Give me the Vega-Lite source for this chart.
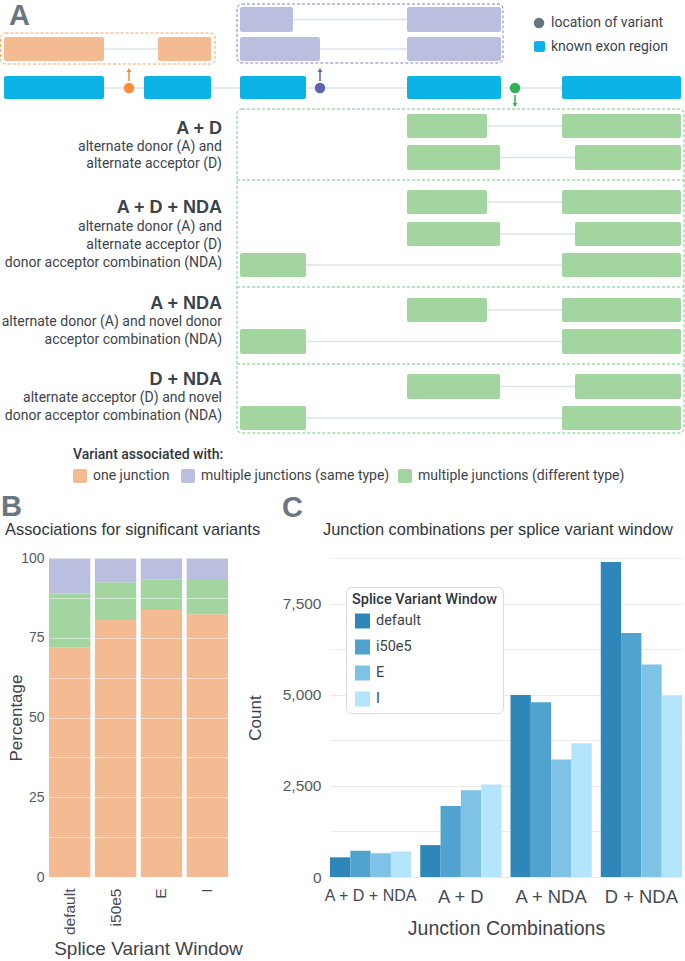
{
  "$schema": "https://vega.github.io/schema/vega-lite/v6.json",
  "padding": 0,
  "background": "white",
  "spacing": 6,
  "config": {"view": {"stroke": null}, "font": "Liberation Sans"},
  "datasets": {
    "rects": [
      {"x": 4, "x2": 104, "y": 37, "y2": 61, "k": "one"},
      {"x": 158, "x2": 211, "y": 37, "y2": 61, "k": "one"},
      {"x": 240, "x2": 293, "y": 7, "y2": 32, "k": "same"},
      {"x": 407, "x2": 501, "y": 7, "y2": 32, "k": "same"},
      {"x": 240, "x2": 320, "y": 37, "y2": 61, "k": "same"},
      {"x": 407, "x2": 501, "y": 37, "y2": 61, "k": "same"},
      {"x": 4, "x2": 104, "y": 76, "y2": 99, "k": "exon"},
      {"x": 144, "x2": 211, "y": 76, "y2": 99, "k": "exon"},
      {"x": 240, "x2": 306, "y": 76, "y2": 99, "k": "exon"},
      {"x": 407, "x2": 501, "y": 76, "y2": 99, "k": "exon"},
      {"x": 562, "x2": 681, "y": 76, "y2": 99, "k": "exon"},
      {"x": 407, "x2": 487, "y": 114, "y2": 138, "k": "diff"},
      {"x": 562, "x2": 681, "y": 114, "y2": 138, "k": "diff"},
      {"x": 407, "x2": 500, "y": 145, "y2": 170, "k": "diff"},
      {"x": 575, "x2": 681, "y": 145, "y2": 170, "k": "diff"},
      {"x": 407, "x2": 487, "y": 190, "y2": 214, "k": "diff"},
      {"x": 562, "x2": 681, "y": 190, "y2": 214, "k": "diff"},
      {"x": 407, "x2": 500, "y": 222, "y2": 246, "k": "diff"},
      {"x": 575, "x2": 681, "y": 222, "y2": 246, "k": "diff"},
      {"x": 240, "x2": 306, "y": 253, "y2": 277, "k": "diff"},
      {"x": 562, "x2": 681, "y": 253, "y2": 277, "k": "diff"},
      {"x": 407, "x2": 487, "y": 298, "y2": 322, "k": "diff"},
      {"x": 562, "x2": 681, "y": 298, "y2": 322, "k": "diff"},
      {"x": 240, "x2": 306, "y": 329, "y2": 354, "k": "diff"},
      {"x": 562, "x2": 681, "y": 329, "y2": 354, "k": "diff"},
      {"x": 407, "x2": 500, "y": 374, "y2": 399, "k": "diff"},
      {"x": 575, "x2": 681, "y": 374, "y2": 399, "k": "diff"},
      {"x": 240, "x2": 306, "y": 406, "y2": 430, "k": "diff"},
      {"x": 562, "x2": 681, "y": 406, "y2": 430, "k": "diff"},
      {"x": 534, "x2": 545, "y": 41, "y2": 52, "k": "exon"},
      {"x": 73, "x2": 87, "y": 469, "y2": 483, "k": "one"},
      {"x": 181, "x2": 195, "y": 469, "y2": 483, "k": "same"},
      {"x": 398, "x2": 412, "y": 469, "y2": 483, "k": "diff"}
    ],
    "links": [
      {"x": 4, "x2": 211, "y": 49},
      {"x": 240, "x2": 501, "y": 19.5},
      {"x": 240, "x2": 501, "y": 49},
      {"x": 4, "x2": 681, "y": 88},
      {"x": 407, "x2": 681, "y": 126},
      {"x": 407, "x2": 681, "y": 157.5},
      {"x": 407, "x2": 681, "y": 202},
      {"x": 407, "x2": 681, "y": 234},
      {"x": 240, "x2": 681, "y": 265},
      {"x": 407, "x2": 681, "y": 310},
      {"x": 240, "x2": 681, "y": 341.5},
      {"x": 407, "x2": 681, "y": 386.5},
      {"x": 240, "x2": 681, "y": 418}
    ],
    "boxes": [
      {"x": 0.5, "x2": 215, "y": 33, "y2": 64, "k": "one"},
      {"x": 237, "x2": 503, "y": 4, "y2": 63, "k": "same"},
      {"x": 237, "x2": 684, "y": 109, "y2": 433, "k": "diff"}
    ],
    "dividers": [
      {"x": 237, "x2": 684, "y": 180},
      {"x": 237, "x2": 684, "y": 287},
      {"x": 237, "x2": 684, "y": 364}
    ],
    "stems": [
      {"x": 129, "y": 81, "y2": 71, "k": "one"},
      {"x": 320, "y": 81, "y2": 71, "k": "same"},
      {"x": 515, "y": 95, "y2": 104, "k": "diff"}
    ],
    "heads": [
      {"x": 129, "y": 70, "k": "one", "dir": "up"},
      {"x": 320, "y": 70, "k": "same", "dir": "up"},
      {"x": 515, "y": 105, "k": "diff", "dir": "down"}
    ],
    "dots": [
      {"x": 129, "y": 88, "k": "one"},
      {"x": 320, "y": 88, "k": "same"},
      {"x": 515, "y": 88, "k": "diff"},
      {"x": 539, "y": 23, "k": "legend"}
    ],
    "letters": [
      {"x": 9, "y": 16, "t": "A"},
      {"x": 1, "y": 507, "t": "B"},
      {"x": 282, "y": 508, "t": "C"}
    ],
    "headings": [
      {"x": 222, "y": 129, "t": "A + D"},
      {"x": 222, "y": 208, "t": "A + D + NDA"},
      {"x": 222, "y": 304, "t": "A + NDA"},
      {"x": 222, "y": 380, "t": "D + NDA"}
    ],
    "desc": [
      {"x": 222, "y": 147, "t": "alternate donor (A) and"},
      {"x": 222, "y": 163.5, "t": "alternate acceptor (D)"},
      {"x": 222, "y": 227, "t": "alternate donor (A) and"},
      {"x": 222, "y": 245, "t": "alternate acceptor (D)"},
      {"x": 222, "y": 263, "t": "donor acceptor combination (NDA)"},
      {"x": 222, "y": 322, "t": "alternate donor (A) and novel donor"},
      {"x": 222, "y": 339.5, "t": "acceptor combination (NDA)"},
      {"x": 222, "y": 398, "t": "alternate acceptor (D) and novel"},
      {"x": 222, "y": 416, "t": "donor acceptor combination (NDA)"}
    ],
    "legendText": [
      {"x": 551, "y": 23, "t": "location of variant"},
      {"x": 551, "y": 47, "t": "known exon region"},
      {"x": 93, "y": 476, "t": "one junction"},
      {"x": 201, "y": 476, "t": "multiple junctions (same type)"},
      {"x": 418, "y": 476, "t": "multiple junctions (different type)"}
    ],
    "legendHead": [
      {"x": 73, "y": 455, "t": "Variant associated with:"}
    ],
    "titles": [
      {"x": 5, "y": 530, "t": "Associations for significant variants"},
      {"x": 323, "y": 530, "t": "Junction combinations per splice variant window"}
    ],
    "assoc": [
      {"win": "default", "assoc": "one junction", "ord": 1, "pct": 72.0},
      {"win": "default", "assoc": "multiple junctions (different type)", "ord": 2, "pct": 16.9},
      {"win": "default", "assoc": "multiple junctions (same type)", "ord": 3, "pct": 11.1},
      {"win": "i50e5", "assoc": "one junction", "ord": 1, "pct": 80.6},
      {"win": "i50e5", "assoc": "multiple junctions (different type)", "ord": 2, "pct": 11.8},
      {"win": "i50e5", "assoc": "multiple junctions (same type)", "ord": 3, "pct": 7.6},
      {"win": "E", "assoc": "one junction", "ord": 1, "pct": 83.7},
      {"win": "E", "assoc": "multiple junctions (different type)", "ord": 2, "pct": 9.5},
      {"win": "E", "assoc": "multiple junctions (same type)", "ord": 3, "pct": 6.8},
      {"win": "I", "assoc": "one junction", "ord": 1, "pct": 82.4},
      {"win": "I", "assoc": "multiple junctions (different type)", "ord": 2, "pct": 10.7},
      {"win": "I", "assoc": "multiple junctions (same type)", "ord": 3, "pct": 6.9}
    ],
    "combos": [
      {"combo": "A + D + NDA", "win": "default", "count": 540},
      {"combo": "A + D + NDA", "win": "i50e5", "count": 720},
      {"combo": "A + D + NDA", "win": "E", "count": 650},
      {"combo": "A + D + NDA", "win": "I", "count": 700},
      {"combo": "A + D", "win": "default", "count": 875},
      {"combo": "A + D", "win": "i50e5", "count": 1950},
      {"combo": "A + D", "win": "E", "count": 2380},
      {"combo": "A + D", "win": "I", "count": 2540},
      {"combo": "A + NDA", "win": "default", "count": 4990},
      {"combo": "A + NDA", "win": "i50e5", "count": 4790},
      {"combo": "A + NDA", "win": "E", "count": 3225},
      {"combo": "A + NDA", "win": "I", "count": 3670},
      {"combo": "D + NDA", "win": "default", "count": 8640},
      {"combo": "D + NDA", "win": "i50e5", "count": 6695},
      {"combo": "D + NDA", "win": "E", "count": 5830},
      {"combo": "D + NDA", "win": "I", "count": 4980}
    ]
  },
  "vconcat": [
    {
      "width": 636,
      "height": 545,
      "resolve": {"scale": {"fill": "independent", "stroke": "independent"}},
      "encoding": {
        "x": {"field": "x", "type": "quantitative", "scale": {"domain": [49, 685], "nice": false, "zero": false}, "axis": null},
        "y": {"field": "y", "type": "quantitative", "scale": {"domain": [545, 0], "nice": false, "zero": false}, "axis": null}
      },
      "layer": [
        {
          "data": {"name": "boxes"},
          "mark": {"type": "rect", "filled": false, "strokeDash": [3, 2], "strokeWidth": 1, "cornerRadius": 5},
          "encoding": {
            "x2": {"field": "x2"}, "y2": {"field": "y2"},
            "stroke": {"field": "k", "type": "nominal", "scale": {"domain": ["one", "same", "diff"], "range": ["#F7A55E", "#7C82C2", "#72C985"]}, "legend": null}
          }
        },
        {
          "data": {"name": "dividers"},
          "mark": {"type": "rule", "strokeDash": [3, 2], "strokeWidth": 1, "color": "#72C985"},
          "encoding": {"x2": {"field": "x2"}}
        },
        {
          "data": {"name": "links"},
          "mark": {"type": "rule", "strokeWidth": 1.5, "color": "#DDE3EC"},
          "encoding": {"x2": {"field": "x2"}}
        },
        {
          "data": {"name": "rects"},
          "mark": {"type": "rect", "cornerRadius": 2},
          "encoding": {
            "x2": {"field": "x2"}, "y2": {"field": "y2"},
            "fill": {"field": "k", "type": "nominal", "scale": {"domain": ["one", "same", "diff", "exon"], "range": ["#F4BB92", "#BBBFDF", "#A2D59F", "#0BB3E6"]}, "legend": null}
          }
        },
        {
          "data": {"name": "stems"},
          "mark": {"type": "rule", "strokeWidth": 1.5},
          "encoding": {
            "y2": {"field": "y2"},
            "stroke": {"field": "k", "type": "nominal", "scale": {"domain": ["one", "same", "diff"], "range": ["#F68E3C", "#5B66AF", "#2FB153"]}, "legend": null}
          }
        },
        {
          "data": {"name": "heads"},
          "mark": {"type": "point", "filled": true, "size": 22, "opacity": 1},
          "encoding": {
            "shape": {"field": "dir", "type": "nominal", "scale": {"domain": ["up", "down"], "range": ["triangle-up", "triangle-down"]}, "legend": null},
            "fill": {"field": "k", "type": "nominal", "scale": {"domain": ["one", "same", "diff"], "range": ["#F68E3C", "#5B66AF", "#2FB153"]}, "legend": null}
          }
        },
        {
          "data": {"name": "dots"},
          "mark": {"type": "point", "filled": true, "shape": "circle", "size": 110, "opacity": 1},
          "encoding": {
            "fill": {"field": "k", "type": "nominal", "scale": {"domain": ["one", "same", "diff", "legend"], "range": ["#F68E3C", "#5B66AF", "#2FB153", "#6A747C"]}, "legend": null}
          }
        },
        {
          "data": {"name": "letters"},
          "mark": {"type": "text", "align": "left", "baseline": "middle", "fontSize": 29, "fontWeight": "bold", "color": "#6B7680"},
          "encoding": {"text": {"field": "t"}}
        },
        {
          "data": {"name": "headings"},
          "mark": {"type": "text", "align": "right", "baseline": "middle", "fontSize": 18, "fontWeight": "bold", "color": "#3D434A"},
          "encoding": {"text": {"field": "t"}}
        },
        {
          "data": {"name": "desc"},
          "mark": {"type": "text", "align": "right", "baseline": "middle", "fontSize": 14, "font": "Roboto", "color": "#3D434A"},
          "encoding": {"text": {"field": "t"}}
        },
        {
          "data": {"name": "legendText"},
          "mark": {"type": "text", "align": "left", "baseline": "middle", "fontSize": 14, "font": "Roboto", "color": "#3D434A"},
          "encoding": {"text": {"field": "t"}}
        },
        {
          "data": {"name": "legendHead"},
          "mark": {"type": "text", "align": "left", "baseline": "middle", "fontSize": 14, "fontWeight": 500, "font": "Roboto", "color": "#2F353B"},
          "encoding": {"text": {"field": "t"}}
        },
        {
          "data": {"name": "titles"},
          "mark": {"type": "text", "align": "left", "baseline": "middle", "fontSize": 16.4, "color": "#2F353B"},
          "encoding": {"text": {"field": "t"}}
        }
      ]
    },
    {
      "resolve": {"scale": {"color": "independent"}},
      "hconcat": [
        {
          "width": 179,
          "height": 319,
          "data": {"name": "assoc"},
          "mark": {"type": "bar"},
          "encoding": {
            "x": {"field": "win", "type": "nominal", "sort": ["default", "i50e5", "E", "I"],
              "scale": {"paddingInner": 0.1, "paddingOuter": 0},
              "axis": {"title": "Splice Variant Window", "labelAngle": 270, "labelFontSize": 15.5, "labelColor": "#454B52", "labelPadding": 11, "ticks": false, "domain": false, "titleFontSize": 19, "titleFontWeight": "normal", "titleColor": "#3D434A", "titlePadding": 5, "titleX": 99}},
            "y": {"field": "pct", "type": "quantitative", "stack": "zero",
              "scale": {"domain": [0, 100], "nice": false},
              "axis": {"values": [0, 12.5, 25, 37.5, 50, 62.5, 75, 87.5, 100], "labelExpr": "datum.value % 25 === 0 ? datum.label : ''", "grid": true, "gridColor": "#ffffff", "gridOpacity": 0.5, "zindex": 1, "ticks": false, "domain": false, "labelFontSize": 14, "labelColor": "#555B61", "labelPadding": 5, "title": "Percentage", "titleFontSize": 17, "titleFontWeight": "normal", "titleColor": "#3D434A", "titlePadding": -5}},
            "color": {"field": "assoc", "type": "nominal",
              "scale": {"domain": ["one junction", "multiple junctions (same type)", "multiple junctions (different type)"], "range": ["#F4BB92", "#BBBFDF", "#A2D59F"]},
              "legend": null},
            "order": {"field": "ord", "type": "quantitative"}
          }
        },
        {
          "width": 352,
          "height": 319,
          "data": {"name": "combos"},
          "mark": {"type": "bar"},
          "encoding": {
            "x": {"field": "combo", "type": "nominal", "sort": ["A + D + NDA", "A + D", "A + NDA", "D + NDA"],
              "scale": {"paddingInner": 0.1, "paddingOuter": 0},
              "axis": {"title": "Junction Combinations", "labelAngle": 0, "labelFontSize": {"condition": {"test": "datum.value === 'A + D + NDA'", "value": 16}, "value": 18.4}, "labelColor": "#454B52", "labelPadding": 10, "ticks": false, "domain": false, "titleFontSize": 19.5, "titleFontWeight": "normal", "titleColor": "#3D434A", "titlePadding": 14}},
            "xOffset": {"field": "win", "type": "nominal", "sort": ["default", "i50e5", "E", "I"], "scale": {"paddingInner": 0, "paddingOuter": 0}},
            "y": {"field": "count", "type": "quantitative",
              "scale": {"domain": [0, 8750], "nice": false},
              "axis": {"values": [0, 1250, 2500, 3750, 5000, 6250, 7500, 8750], "labelExpr": "datum.value % 2500 === 0 ? format(datum.value, ',') : ''", "grid": true, "gridColor": "#EBEBEB", "ticks": false, "domain": false, "labelFontSize": 15.5, "labelColor": "#555B61", "labelPadding": 9, "title": "Count", "titleFontSize": 17, "titleFontWeight": "normal", "titleColor": "#3D434A", "titlePadding": 18}},
            "color": {"field": "win", "type": "nominal", "sort": ["default", "i50e5", "E", "I"],
              "scale": {"domain": ["default", "i50e5", "E", "I"], "range": ["#2E87B8", "#50A3CF", "#7EC3E6", "#B3E5FC"]},
              "legend": {"orient": "none", "legendX": 16, "legendY": 29, "title": "Splice Variant Window", "titleFont": "Roboto", "titleFontSize": 14.5, "titleFontWeight": 500, "titleColor": "#2F353B", "titlePadding": 6, "labelFont": "Roboto", "labelFontSize": 14.5, "labelColor": "#3D434A", "symbolType": "square", "symbolSize": 225, "symbolStrokeWidth": 0, "symbolOpacity": 1, "rowPadding": 10, "padding": 6, "fillColor": "#ffffff", "strokeColor": "#DDDDDD", "cornerRadius": 5, "labelOffset": 6, "symbolOffset": 3}}
          }
        }
      ],
      "bounds": "flush",
      "spacing": 102
    }
  ]
}
